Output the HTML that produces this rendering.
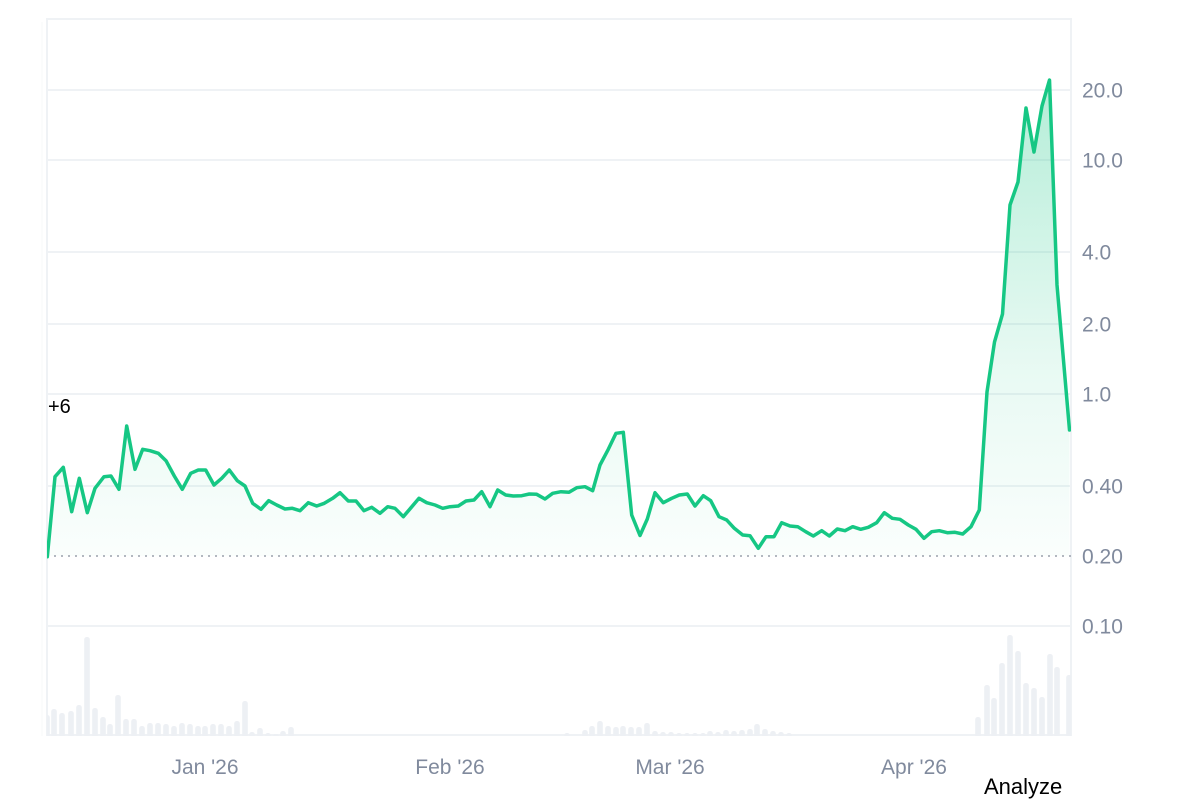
<!DOCTYPE html>
<html><head><meta charset="utf-8"><style>
html,body{margin:0;padding:0;background:#fff;}
body{width:1200px;height:800px;overflow:hidden;position:relative;font-family:"Liberation Sans",Arial,sans-serif;}
svg{position:absolute;left:0;top:0;}
</style></head><body>
<svg width="1200" height="800" viewBox="0 0 1200 800" xmlns="http://www.w3.org/2000/svg">
<defs>
<linearGradient id="g" gradientUnits="userSpaceOnUse" x1="0" y1="80" x2="0" y2="556">
<stop offset="0" stop-color="#16c784" stop-opacity="0.32"/>
<stop offset="0.6" stop-color="#16c784" stop-opacity="0.10"/>
<stop offset="1" stop-color="#16c784" stop-opacity="0.02"/>
</linearGradient>
<clipPath id="c"><rect x="47" y="18" width="1024" height="718"/></clipPath>
</defs>
<g stroke="#eff2f5" stroke-width="2" fill="none">
<line x1="46" y1="19" x2="1071" y2="19"/>
<line x1="47" y1="18" x2="47" y2="736"/>
<line x1="1071" y1="18" x2="1071" y2="736"/>
<line x1="47" y1="90" x2="1071" y2="90"/>
<line x1="47" y1="160" x2="1071" y2="160"/>
<line x1="47" y1="252" x2="1071" y2="252"/>
<line x1="47" y1="324" x2="1071" y2="324"/>
<line x1="47" y1="394" x2="1071" y2="394"/>
<line x1="47" y1="486" x2="1071" y2="486"/>
<line x1="47" y1="626" x2="1071" y2="626"/>
<line x1="47" y1="735" x2="1071" y2="735"/>
</g>
<line x1="42" y1="22" x2="42" y2="736" stroke="#f7f8fa" stroke-width="1"/>
<g fill="#edf0f4" clip-path="url(#c)" id="bars"></g>
<g clip-path="url(#c)">
<path id="area" fill="url(#g)" stroke="none" d=""/>
<line x1="47" y1="556" x2="1071" y2="556" stroke="#9aa0ac" stroke-width="1.5" stroke-dasharray="2 5"/>
<polyline id="line" fill="none" stroke="#16c784" stroke-width="3.5" stroke-linejoin="round" stroke-linecap="round" points=""/>
</g>
<g fill="#808a9d" font-size="21" font-family="Liberation Sans, Arial, sans-serif" dominant-baseline="central">
<text x="1082" y="91">20.0</text>
<text x="1082" y="161">10.0</text>
<text x="1082" y="253">4.0</text>
<text x="1082" y="325">2.0</text>
<text x="1082" y="395">1.0</text>
<text x="1082" y="487">0.40</text>
<text x="1082" y="557">0.20</text>
<text x="1082" y="627">0.10</text>
</g>
<g fill="#808a9d" font-size="21" font-family="Liberation Sans, Arial, sans-serif" text-anchor="middle">
<text x="205" y="774">Jan '26</text>
<text x="450" y="774">Feb '26</text>
<text x="670" y="774">Mar '26</text>
<text x="914" y="774">Apr '26</text>
</g>
<text x="984" y="794" fill="#000" font-size="22" font-family="Liberation Sans, Arial, sans-serif">Analyze</text>
<text x="48" y="413" fill="#000" font-size="20" font-family="Liberation Sans, Arial, sans-serif">+6</text>
</svg>
<script>
var pts=[[47.3,556.7],[55,476.7],[63.3,467.3],[71.7,511.7],[79.3,478.3],[87.3,512.7],[95,488.3],[104,476.7],[111,476],[119,489.3],[126.7,426],[135,469.3],[142.7,449.3],[150,450.7],[158.3,453.3],[166,460.7],[174.3,476],[182.3,489.3],[190.7,473.3],[198.3,470],[205.7,470],[214,485],[221.7,478.3],[229.3,470],[237.3,480.7],[245,486],[252.7,503.3],[261,509.3],[268.7,500.7],[276.7,505],[285,509],[292.3,508.3],[300,510.7],[308.3,502.7],[316.7,506],[324.3,503.3],[332.7,498.3],[340,492.7],[348.3,501],[356,501],[364,510.7],[371.7,507.3],[380,513.3],[387.7,506.7],[395,508.3],[403.3,516.7],[411,507.7],[419,498.3],[426.7,502.7],[435,505],[442.7,508.3],[450,506.7],[458.3,506],[466,501],[474,500],[481.7,491.7],[490,506.7],[497.7,490],[505.7,495],[513.3,496],[521.7,495.7],[529.3,494],[536.7,494.3],[545,499],[552.7,493.3],[561,491.7],[569,492.3],[576.7,487.7],[585,486.7],[592.7,490.7],[600,465],[608.3,449.3],[616,433.3],[623.3,432.3],[631.7,515],[640,535.5],[647.3,519],[655,492.7],[663.3,502.7],[671.7,498.3],[679.3,495],[687.3,494],[695,506],[703.3,495.7],[710.7,500.7],[719,516.7],[726.7,520],[734.3,528.3],[742.7,535],[750,535.7],[758.3,548.3],[766,536.7],[774,536.7],[781.7,522.7],[790,526],[797.7,526.7],[805.7,531.7],[813.3,536],[821.7,530.7],[829.3,536],[837.3,529],[845,530.7],[852.7,526.7],[860.7,529.3],[868.3,527.3],[876.7,522.7],[884.3,512.7],[892.3,518.3],[900,519.3],[908.3,525],[916,529.3],[924,538.3],[931.7,531.7],[939.3,530.7],[947.3,532.7],[955,532.3],[962.7,534],[971,526.7],[979.3,510],[987,392],[994.5,342],[1002.5,314],[1010,205],[1018,182],[1026,108],[1034,152],[1042,106],[1049.5,80],[1057,285],[1069.5,430]];
var s=pts.map(function(p){return p[0]+','+p[1];}).join(' ');
document.getElementById('line').setAttribute('points',s);
document.getElementById('area').setAttribute('d','M'+pts.map(function(p){return p[0]+' '+p[1];}).join(' L')+' L1069.5 556 L47.3 556 Z');
var bars=[[47,715],[54,709],[62,713],[71,711],[79,705],[87,637],[95,708],[103,717],[110,724],[118,695],[126,719],[134,719],[142,726],[150,723],[158,723],[166,724],[174,726],[182,723],[190,724],[198,726],[205,726],[213,724],[221,724],[229,726],[237,721],[245,701],[252,732],[260,728],[268,733],[276,734],[283,731],[291,727],
[567,733],[585,730],[592,726],[600,721],[608,726],[616,727],[623,726],[631,727],[639,727],[647,723],[655,731],[663,732],[671,732],[679,733],[687,733],[695,733],[703,733],[710,731],[718,732],[726,730],[734,731],[742,730],[750,729],[757,724],[765,729],[773,731],[781,732],[789,733],
[978,717],[987,685],[994,698],[1002,663],[1010,635],[1018,651],[1026,683],[1034,688],[1042,697],[1050,654],[1057,667],[1069,675]];
var g=document.getElementById('bars'),ns='http://www.w3.org/2000/svg';
bars.forEach(function(b){var r=document.createElementNS(ns,'rect');r.setAttribute('x',b[0]-2.8);r.setAttribute('y',b[1]);r.setAttribute('width',5.6);r.setAttribute('height',736-b[1]+2);r.setAttribute('rx',2.5);g.appendChild(r);});
</script>
</body></html>
